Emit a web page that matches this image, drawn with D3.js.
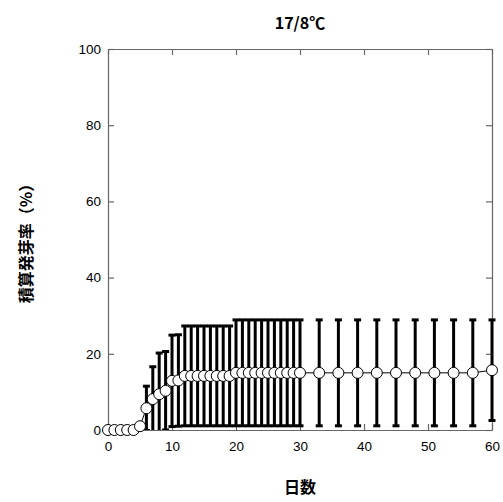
<!DOCTYPE html>
<html>
<head>
<meta charset="utf-8">
<script src="https://cdn.jsdelivr.net/npm/d3@7"></script>
<style>
  body { margin: 0; background: #fff; }
  text { font-family: "Liberation Sans", Arial, sans-serif; }
  .jp { font-family: "Noto Sans CJK JP", sans-serif; }
</style>
</head>
<body>
<script>
const width = 503;
const height = 502;
const margin = {top: 49, right: 11, bottom: 72, left: 108};

// Chart data (days, cumulative germination %, error)
const days = [0, 1, 2, 3, 4, 5, 6, 7, 8, 9, 10, 11, 12, 13, 14, 15, 16, 17, 18, 19,
              20, 21, 22, 23, 24, 25, 26, 27, 28, 29, 30,
              33, 36, 39, 42, 45, 48, 51, 54, 57, 60];
const rate = [0, 0, 0, 0, 0, 1.0, 5.7, 8.1, 9.4, 10.3, 12.9, 13.0, 14.2, 14.2, 14.2, 14.2, 14.2, 14.2, 14.2, 14.2,
              15.0, 15.0, 15.0, 15.0, 15.0, 15.0, 15.0, 15.0, 15.0, 15.0, 15.0,
              15.0, 15.0, 15.0, 15.0, 15.0, 15.0, 15.0, 15.0, 15.0, 15.7];
const err = [0, 0, 0, 0, 0, 0, 5.8, 8.5, 10.8, 10.3, 12.0, 12.0, 13.1, 13.1, 13.1, 13.1, 13.1, 13.1, 13.1, 13.1,
             13.9, 13.9, 13.9, 13.9, 13.9, 13.9, 13.9, 13.9, 13.9, 13.9, 13.9,
             13.9, 13.9, 13.9, 13.9, 13.9, 13.9, 13.9, 13.9, 13.9, 13.2];
const xTicks = [0, 10, 20, 30, 40, 50, 60];
const yTicks = [0, 20, 40, 60, 80, 100];

const title = "17/8℃";
const xLabel = "日数";
const yLabel = "積算発芽率（%）";

const data = days.map((d, i) => ({day: d, rate: rate[i], err: err[i]}));

const x = d3.scaleLinear().domain([0, 60]).range([margin.left, width - margin.right]);
const y = d3.scaleLinear().domain([0, 100]).range([height - margin.bottom, margin.top]);

const svg = d3.select("body").append("svg")
    .attr("width", width)
    .attr("height", height);

// clip so bars don't run below the axis
svg.append("clipPath").attr("id", "plot-clip")
  .append("rect")
    .attr("x", margin.left - 8)
    .attr("y", margin.top)
    .attr("width", width - margin.left - margin.right + 16)
    .attr("height", height - margin.top - margin.bottom);

// frame with inward ticks on all four sides
const tickLen = 6;
const frameColor = "#666";
const axisB = svg.append("g")
    .attr("transform", `translate(0,${y(0)})`)
    .call(d3.axisBottom(x).tickValues(xTicks).tickSizeInner(-tickLen).tickSizeOuter(0).tickPadding(11));
const axisT = svg.append("g")
    .attr("transform", `translate(0,${y(100)})`)
    .call(d3.axisTop(x).tickValues(xTicks).tickSizeInner(-tickLen).tickSizeOuter(0).tickFormat(""));
const axisL = svg.append("g")
    .attr("transform", `translate(${x(0)},0)`)
    .call(d3.axisLeft(y).tickValues(yTicks).tickSizeInner(-tickLen).tickSizeOuter(0).tickPadding(7));
const axisR = svg.append("g")
    .attr("transform", `translate(${x(60)},0)`)
    .call(d3.axisRight(y).tickValues(yTicks).tickSizeInner(-tickLen).tickSizeOuter(0).tickFormat(""));

[axisB, axisT, axisL, axisR].forEach(g => {
  g.select(".domain").attr("stroke", frameColor).attr("stroke-width", 1.2);
  g.selectAll(".tick line").attr("stroke", frameColor).attr("stroke-width", 1.2);
  g.selectAll(".tick text")
    .attr("fill", "#000")
    .style("font-family", "'Liberation Sans', Arial, sans-serif")
    .style("font-size", "13.5px");
});

const plot = svg.append("g").attr("clip-path", "url(#plot-clip)");

// error bars
const bars = plot.selectAll(".ebar")
  .data(data.filter(d => d.err > 0))
  .enter().append("g")
    .attr("class", "ebar")
    .attr("stroke", "#000")
    .attr("stroke-width", 3);

bars.append("line")
    .attr("x1", d => x(d.day)).attr("x2", d => x(d.day))
    .attr("y1", d => y(d.rate + d.err)).attr("y2", d => y(d.rate - d.err));
bars.append("line")
    .attr("x1", d => x(d.day) - 3.5).attr("x2", d => x(d.day) + 3.5)
    .attr("y1", d => y(d.rate + d.err)).attr("y2", d => y(d.rate + d.err));
bars.append("line")
    .attr("x1", d => x(d.day) - 3.5).attr("x2", d => x(d.day) + 3.5)
    .attr("y1", d => y(d.rate - d.err)).attr("y2", d => y(d.rate - d.err));

// connecting line
svg.append("path")
    .datum(data)
    .attr("fill", "none")
    .attr("stroke", "#000")
    .attr("stroke-width", 1)
    .attr("d", d3.line().x(d => x(d.day)).y(d => y(d.rate)));

// markers
svg.selectAll(".pt")
  .data(data)
  .enter().append("circle")
    .attr("class", "pt")
    .attr("cx", d => x(d.day))
    .attr("cy", d => y(d.rate))
    .attr("r", 5.5)
    .attr("fill", "#fff")
    .attr("stroke", "#000")
    .attr("stroke-width", 1);

// title and axis labels
svg.append("text")
    .attr("class", "jp")
    .attr("x", (x(0) + x(60)) / 2)
    .attr("y", 29)
    .attr("text-anchor", "middle")
    .style("font-size", "16px")
    .style("font-weight", "bold")
    .text(title);

svg.append("text")
    .attr("class", "jp")
    .attr("x", (x(0) + x(60)) / 2)
    .attr("y", 493)
    .attr("text-anchor", "middle")
    .style("font-size", "16px")
    .style("font-weight", "bold")
    .text(xLabel);

svg.append("text")
    .attr("class", "jp")
    .attr("transform", `translate(32,${(y(0) + y(100)) / 2}) rotate(-90)`)
    .attr("text-anchor", "middle")
    .style("font-size", "16px")
    .style("font-weight", "bold")
    .text(yLabel);
</script>
</body>
</html>
